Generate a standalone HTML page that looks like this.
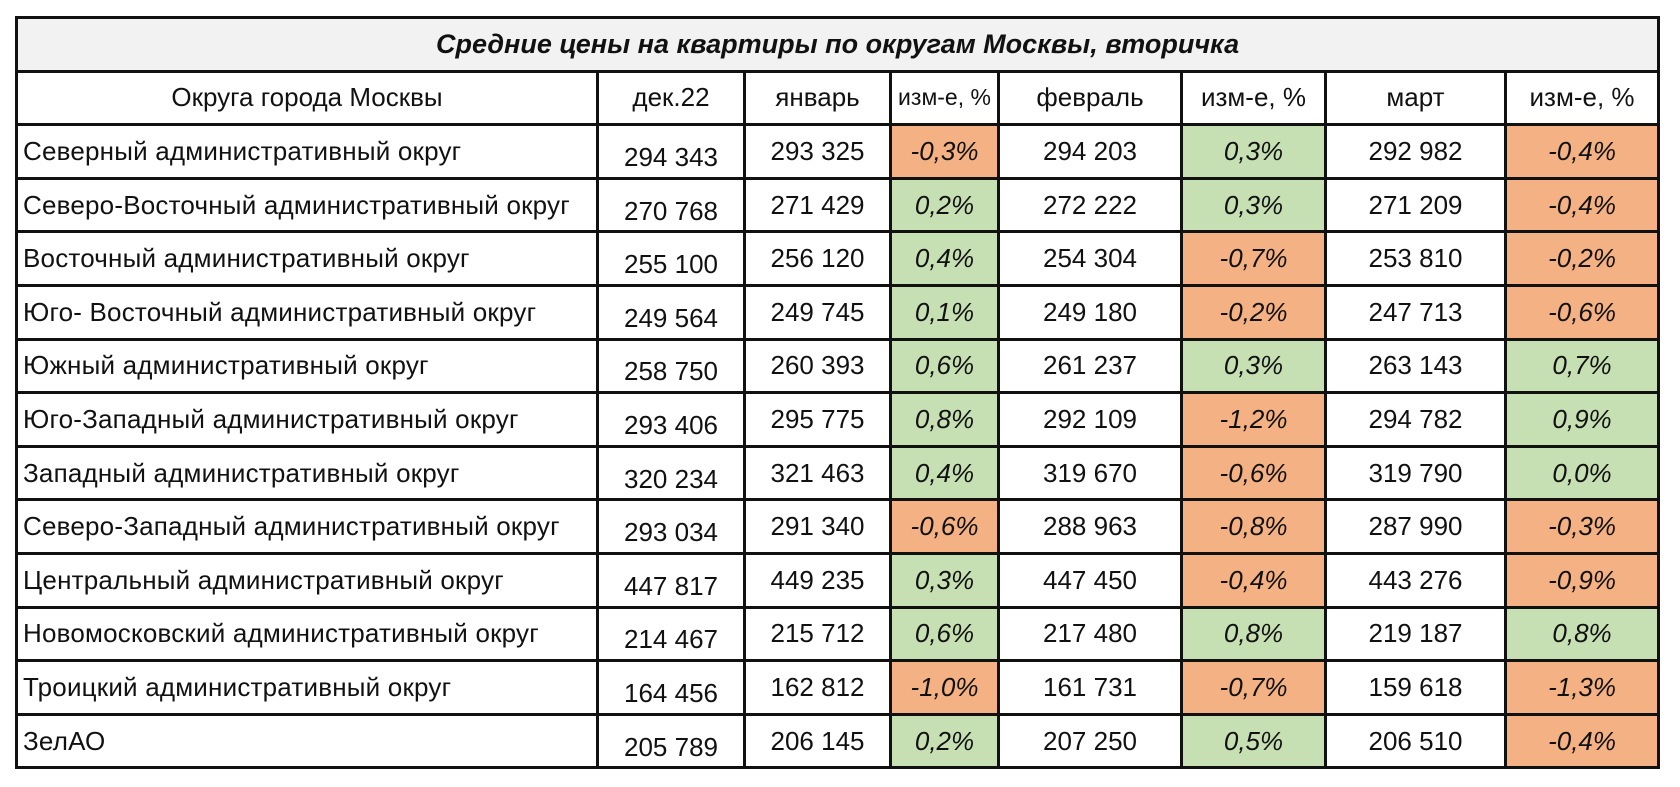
<!DOCTYPE html>
<html><head><meta charset="utf-8">
<style>
html,body{margin:0;padding:0;background:#fff;width:1680px;height:787px;overflow:hidden}
table{position:absolute;left:15px;top:16px;border-collapse:collapse;table-layout:fixed;width:1642px;font-family:"Liberation Sans","DejaVu Sans",sans-serif;font-size:26px;color:#111}
td{border:3px solid #111;padding:0;text-align:center;vertical-align:middle;height:50.6px;overflow:hidden;white-space:nowrap}
td.name{text-align:left;padding-left:5px;letter-spacing:0.2px}
td.title{background:#f2f2f2;font-weight:bold;font-style:italic;font-size:27px}
td.dec span{position:relative;top:6px}
td.pct{font-style:italic}
.g{background:#c6e0b4}.o{background:#f4b183}
</style></head><body>
<table>
<colgroup><col style="width:581px"><col style="width:147px"><col style="width:146px"><col style="width:108px"><col style="width:183px"><col style="width:144px"><col style="width:180px"><col style="width:153px"></colgroup>
<tbody id="tb">
<tr><td colspan="8" class="title">Средние цены на  квартиры по округам Москвы, вторичка</td></tr>
<tr>
<td>Округа города Москвы</td>
<td>дек.22</td>
<td>январь</td>
<td style="font-size:23px">изм-е, %</td>
<td>февраль</td>
<td>изм-е, %</td>
<td>март</td>
<td>изм-е, %</td>
</tr>
</tbody></table>
<script>
const districts=["Северный административный округ","Северо-Восточный административный округ","Восточный административный округ","Юго- Восточный административный округ","Южный административный округ","Юго-Западный административный округ","Западный административный округ","Северо-Западный административный округ","Центральный административный округ","Новомосковский административный округ","Троицкий административный округ","ЗелАО"];
const dec=["294 343","270 768","255 100","249 564","258 750","293 406","320 234","293 034","447 817","214 467","164 456","205 789"];
const jan=["293 325","271 429","256 120","249 745","260 393","295 775","321 463","291 340","449 235","215 712","162 812","206 145"];
const janChg=["-0,3%","0,2%","0,4%","0,1%","0,6%","0,8%","0,4%","-0,6%","0,3%","0,6%","-1,0%","0,2%"];
const feb=["294 203","272 222","254 304","249 180","261 237","292 109","319 670","288 963","447 450","217 480","161 731","207 250"];
const febChg=["0,3%","0,3%","-0,7%","-0,2%","0,3%","-1,2%","-0,6%","-0,8%","-0,4%","0,8%","-0,7%","0,5%"];
const mar=["292 982","271 209","253 810","247 713","263 143","294 782","319 790","287 990","443 276","219 187","159 618","206 510"];
const marChg=["-0,4%","-0,4%","-0,2%","-0,6%","0,7%","0,9%","0,0%","-0,3%","-0,9%","0,8%","-1,3%","-0,4%"];
const tb=document.getElementById('tb');
function cell(tr,text,cls,name){
  const td=document.createElement('td');
  
  
  if(cls)td.className=cls;
  if(cls==='dec'){const s=document.createElement('span');s.textContent=text;td.appendChild(s);}else td.textContent=text;
  tr.appendChild(td);
}
function pc(v){return 'pct '+(v.trim().startsWith('-')?'o':'g');}
districts.forEach((d,i)=>{
  const tr=document.createElement('tr');
  
  
  cell(tr,d,'name','district-name');
  cell(tr,dec[i],'dec','dec-price');
  cell(tr,jan[i],'','jan-price');
  cell(tr,janChg[i],pc(janChg[i]),'jan-change');
  cell(tr,feb[i],'','feb-price');
  cell(tr,febChg[i],pc(febChg[i]),'feb-change');
  cell(tr,mar[i],'','mar-price');
  cell(tr,marChg[i],pc(marChg[i]),'mar-change');
  tb.appendChild(tr);
});
</script>
</body></html>
